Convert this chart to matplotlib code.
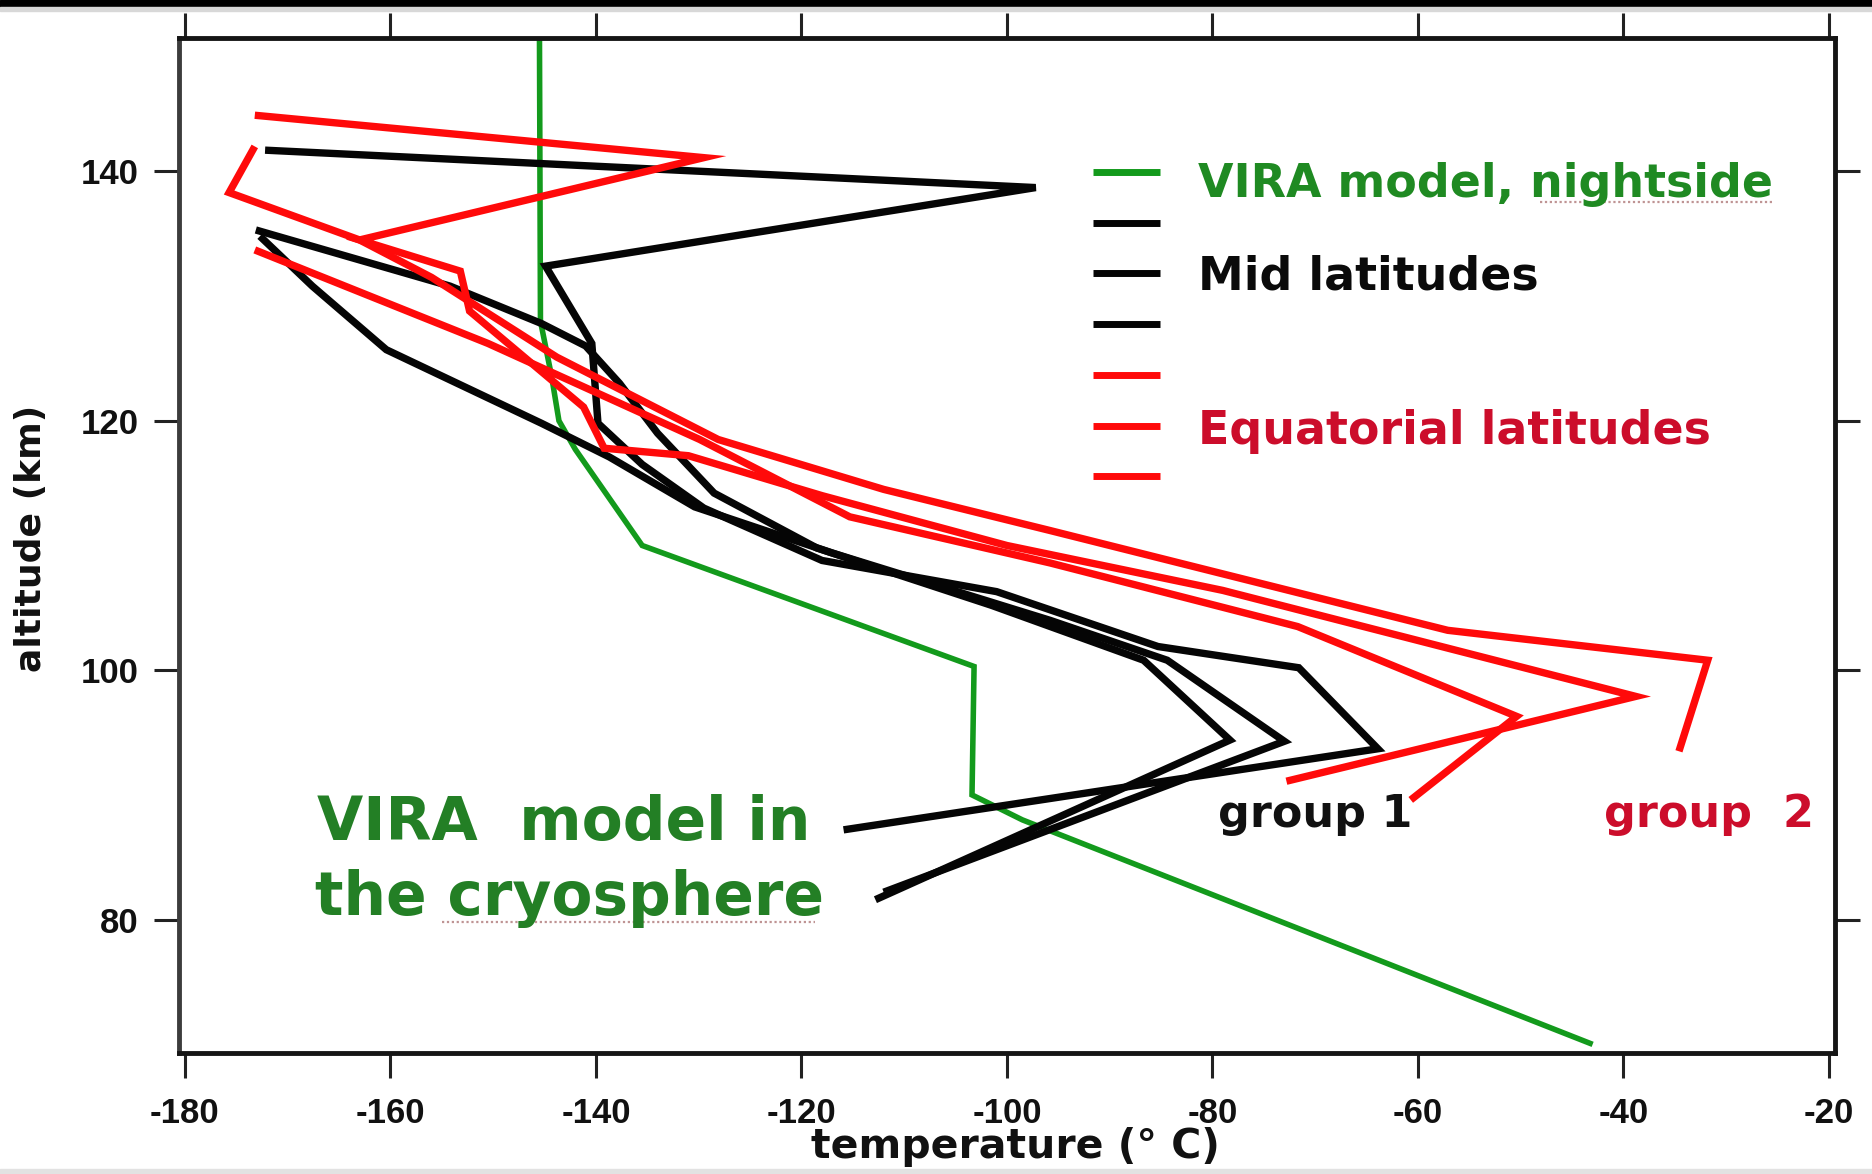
import matplotlib
matplotlib.use("Agg")
import matplotlib.pyplot as plt
from matplotlib.patches import Rectangle

plt.rcParams['axes.unicode_minus'] = False

# VIRA model (nightside) temperature profile
green_temp = [-145.5, -145.4, -144.3, -143.6, -142.0, -135.5, -103.2, -103.4, -98.5, -43.0]
green_alt = [152.0, 128.0, 123.5, 120.0, 117.7, 110.0, 100.3, 90.0, 88.0, 70.0]

# mid latitude profiles (black)
mid1_temp = [-172.2, -97.2, -144.9, -140.4, -139.8, -135.5, -129.5, -118.0, -101.0, -85.3, -71.6, -63.9, -115.9]
mid1_alt = [141.7, 138.7, 132.4, 126.2, 119.8, 116.5, 113.0, 108.8, 106.3, 101.9, 100.2, 93.7, 87.2]
mid2_temp = [-173.1, -154.2, -145.3, -141.0, -137.7, -134.0, -128.5, -118.5, -101.5, -86.7, -78.3, -112.8]
mid2_alt = [135.3, 130.8, 127.8, 126.0, 123.0, 119.0, 114.2, 109.8, 105.2, 100.8, 94.4, 81.6]
mid3_temp = [-172.7, -167.6, -160.4, -145.3, -138.7, -130.4, -117.0, -95.8, -84.4, -73.0, -112.0]
mid3_alt = [134.8, 130.8, 125.7, 119.8, 117.1, 113.1, 109.4, 104.0, 100.8, 94.3, 82.2]

# equatorial latitude profiles (red)
eq1_temp = [-173.2, -129.5, -163.0, -153.2, -152.3, -141.2, -139.2, -131.0, -118.0, -100.0, -79.0, -38.8, -72.8]
eq1_alt = [144.5, 141.1, 134.5, 132.0, 128.8, 121.1, 117.8, 117.2, 114.0, 110.0, 106.4, 97.9, 91.1]
eq2_temp = [-173.2, -175.7, -163.0, -156.0, -143.8, -128.1, -112.0, -95.8, -57.1, -31.8, -34.6]
eq2_alt = [142.0, 138.3, 134.5, 131.5, 125.1, 118.5, 114.5, 111.2, 103.2, 100.8, 93.5]
eq3_temp = [-173.2, -150.5, -129.9, -115.3, -95.8, -71.7, -50.4, -60.7]
eq3_alt = [133.7, 126.2, 118.5, 112.3, 108.6, 103.5, 96.3, 89.6]

x_ticks = [-180, -160, -140, -120, -100, -80, -60, -40, -20]
y_ticks = [80, 100, 120, 140]
legend_labels = ['VIRA model, nightside', '', 'Mid latitudes', '', '', 'Equatorial latitudes', '']

GREEN = '#139a1c'
RED = '#ff0a0a'
BLACK = '#050505'

fig = plt.figure(figsize=(18.72, 11.74), dpi=100)
ax = fig.add_axes([0.0956, 0.1031, 0.8846, 0.8646])

# frame decorations of the scanned picture
fig.patches.append(Rectangle((0, 0.994), 1, 0.006, transform=fig.transFigure, color='black', zorder=0))
fig.patches.append(Rectangle((0, 0.991), 1, 0.003, transform=fig.transFigure, color='#d8d8d8', zorder=0))
fig.patches.append(Rectangle((0, 0), 1, 0.004, transform=fig.transFigure, color='#e2e2e2', zorder=0))

line_kw = dict(solid_joinstyle='miter', solid_capstyle='butt')
lines = []
lines += ax.plot(green_temp, green_alt, color=GREEN, lw=4.0, zorder=2, **line_kw)
for t, a in [(mid1_temp, mid1_alt), (mid2_temp, mid2_alt), (mid3_temp, mid3_alt)]:
    lines += ax.plot(t, a, color=BLACK, lw=5.3, zorder=3, **line_kw)
for t, a in [(eq1_temp, eq1_alt), (eq2_temp, eq2_alt), (eq3_temp, eq3_alt)]:
    lines += ax.plot(t, a, color=RED, lw=5.3, zorder=4, **line_kw)

ax.set_xlim(-180.58, -19.42)
ax.set_ylim(69.31, 150.7)
ax.set_xticks(x_ticks)
ax.set_yticks(y_ticks)
ax.set_xticklabels([str(v) for v in x_ticks])
ax.set_yticklabels([str(v) for v in y_ticks])
ax.tick_params(direction='out', length=18, width=2.2, color='#222222', top=True, right=True,
               labeltop=False, labelright=False)
ax.tick_params(axis='x', pad=14)
ax.tick_params(axis='y', pad=11)
for lab in ax.get_xticklabels() + ax.get_yticklabels():
    lab.set_fontfamily('Liberation Sans')
    lab.set_fontweight('bold')
    lab.set_fontsize(25)
    lab.set_color('#111111')
for side in ['top', 'bottom', 'right']:
    ax.spines[side].set_linewidth(3.5)
    ax.spines[side].set_color('#151515')
ax.spines['left'].set_linewidth(3.5)
ax.spines['left'].set_color('#3c3c3c')

# hand drawn legend: short dash per profile, labels beside some of them
text_colors = {'VIRA model, nightside': '#1f8a22', 'Mid latitudes': '#0a0a0a', 'Equatorial latitudes': '#cc0d2b'}
label_baselines = {'VIRA model, nightside': 0.8437, 'Mid latitudes': 0.7517, 'Equatorial latitudes': 0.6003}
for i, (ln, lab) in enumerate(zip(lines, legend_labels)):
    y = 0.868 - i * 0.05
    ax.plot([0.552, 0.5924], [y, y], transform=ax.transAxes, color=ln.get_color(), lw=5,
            solid_capstyle='butt', clip_on=False)
    if lab:
        ax.text(0.6153, label_baselines[lab], lab, transform=ax.transAxes, fontsize=33,
                fontweight='bold', family='DejaVu Sans', color=text_colors[lab], va='baseline', ha='left')

# spell-check squiggles
ax.plot([0.822, 0.963], [0.8387, 0.8387], transform=ax.transAxes, color='#b07a7a', lw=1.6,
        linestyle=(0, (1, 1.2)), alpha=0.8)
ax.plot([0.159, 0.384], [0.1294, 0.1294], transform=ax.transAxes, color='#b07a7a', lw=1.6,
        linestyle=(0, (1, 1.2)), alpha=0.8)

ax.text(0.0833, 0.2099, 'VIRA  model in', transform=ax.transAxes, fontsize=43, fontweight='bold',
        family='DejaVu Sans', color='#237f25', va='baseline', ha='left')
ax.text(0.0819, 0.1360, 'the cryosphere', transform=ax.transAxes, fontsize=43, fontweight='bold',
        family='DejaVu Sans', color='#237f25', va='baseline', ha='left')
ax.text(0.6272, 0.2230, 'group 1', transform=ax.transAxes, fontsize=32, fontweight='bold',
        family='DejaVu Sans', color='#111111', va='baseline', ha='left')
ax.text(0.8605, 0.2230, 'group  2', transform=ax.transAxes, fontsize=32, fontweight='bold',
        family='DejaVu Sans', color='#cc0d2b', va='baseline', ha='left')

fig.text(0.5427, 0.023, 'temperature (° C)', fontsize=29.5, fontweight='bold', family='DejaVu Sans',
         ha='center', va='center', color='#111111')
fig.text(0.0166, 0.5413, 'altitude (km)', fontsize=26, fontweight='bold', family='DejaVu Sans',
         ha='center', va='center', rotation=90, color='#111111')

fig.savefig('out.png', dpi=100, facecolor='white')
